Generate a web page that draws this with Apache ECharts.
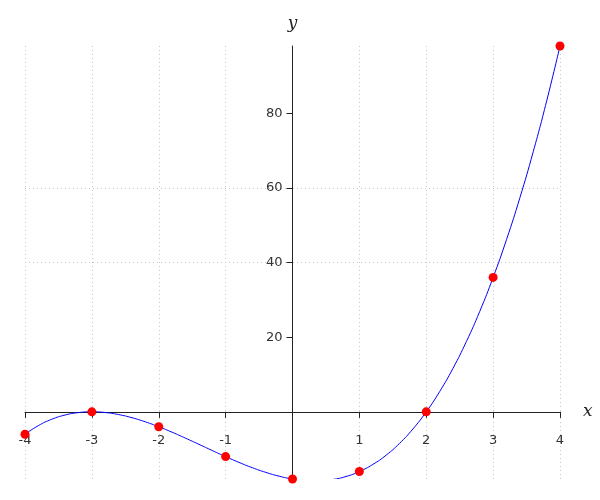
<!DOCTYPE html>
<html>
<head>
<meta charset="utf-8">
<script src="https://cdn.jsdelivr.net/npm/echarts@6/dist/echarts.min.js"></script>
<style>html,body{margin:0;padding:0;background:#fff}#c{width:600px;height:500px}</style>
</head>
<body>
<div id="c"></div>
<script>
// Marked points
const pointX = [-4, -3, -2, -1, 0, 1, 2, 3, 4];
const pointY = [-6, 0, -4, -12, -18, -16, 0, 36, 98];
// Curve samples
const curveX = [-4, -3.8, -3.6, -3.4, -3.2, -3, -2.8, -2.6, -2.4, -2.2, -2, -1.8, -1.6, -1.4, -1.2, -1, -0.8, -0.6, -0.4, -0.2, 0, 0.2, 0.4, 0.6, 0.8, 1, 1.2, 1.4, 1.6, 1.8, 2, 2.2, 2.4, 2.6, 2.8, 3, 3.2, 3.4, 3.6, 3.8, 4];
const curveY = [-6, -3.7, -2.0, -0.86, -0.21, 0, -0.19, -0.74, -1.58, -2.69, -4, -5.47, -7.06, -8.7, -10.37, -12, -13.55, -14.98, -16.22, -17.25, -18, -18.43, -18.5, -18.14, -17.33, -16, -14.11, -11.62, -8.46, -4.61, 0, 5.41, 11.66, 18.82, 26.91, 36, 46.13, 57.34, 69.7, 83.23, 98];
// Tick labels
const xTicks = [-4, -3, -2, -1, 1, 2, 3, 4];
const yTicks = [20, 40, 60, 80];
const xMin = -4, xMax = 4, yMin = -18, yMax = 98;

const chart = echarts.init(document.getElementById('c'), null, {renderer: 'canvas'});
const nameStyle = {fontFamily: 'DejaVu Serif', fontStyle: 'italic', fontSize: 17, color: '#222'};
const gridSpec = {left: 25, right: 40, top: 46, bottom: 21};
chart.setOption({
  animation: false,
  grid: Object.assign({containLabel: false, outerBoundsMode: 'none'}, gridSpec),
  xAxis: {
    type: 'value', min: xMin, max: xMax, interval: 1, position: 'bottom',
    name: 'x', nameLocation: 'end', nameGap: 23,
    nameTextStyle: Object.assign({padding: [16, 0, 0, 0]}, nameStyle),
    axisLine: {onZero: false, lineStyle: {color: '#222', width: 1}},
    axisTick: {show: true, length: 6, inside: false, lineStyle: {color: '#222'}},
    axisLabel: {
      margin: 22, fontSize: 13, color: '#333', fontFamily: 'DejaVu Sans',
      customValues: xTicks
    },
    splitLine: {show: true, lineStyle: {color: '#c8c8c8', type: [1, 3], width: 1}}
  },
  yAxis: {
    type: 'value', min: yMin, max: yMax, position: 'left',
    name: 'y', nameLocation: 'end', nameGap: 14,
    nameTextStyle: nameStyle,
    axisLine: {onZero: false, lineStyle: {color: '#222', width: 1}},
    axisTick: {show: true, length: 6, inside: false, customValues: yTicks, lineStyle: {color: '#222'}},
    axisLabel: {
      margin: 10, fontSize: 13, color: '#333', fontFamily: 'DejaVu Sans',
      customValues: yTicks
    },
    splitLine: {show: true, showMinLine: false, showMaxLine: false, lineStyle: {color: '#c8c8c8', type: [1, 3], width: 1}}
  },
  series: [
    {
      type: 'line',
      data: curveX.map((x, i) => [x, curveY[i]]),
      showSymbol: false,
      smooth: true,
      clip: true,
      lineStyle: {color: '#0000ff', width: 1},
      z: 2
    },
    {
      type: 'scatter',
      data: pointX.map((x, i) => [x, pointY[i]]),
      symbol: 'circle',
      symbolSize: 9,
      clip: false,
      itemStyle: {color: '#ff0000', opacity: 1},
      z: 3
    }
  ]
});
// Place the axes through the origin using the library's own scales
const origin = chart.convertToPixel({gridIndex: 0}, [0, 0]);
const corner = chart.convertToPixel({gridIndex: 0}, [xMin, yMin]);
chart.setOption({
  xAxis: {offset: -(corner[1] - origin[1])},
  yAxis: {offset: -(origin[0] - corner[0])},
  graphic: [{
    type: 'rect', z: 2.5, silent: true,
    shape: {x: 0, y: corner[1], width: 600, height: 500 - corner[1]},
    style: {fill: '#fff'}
  }]
});
</script>
</body>
</html>
